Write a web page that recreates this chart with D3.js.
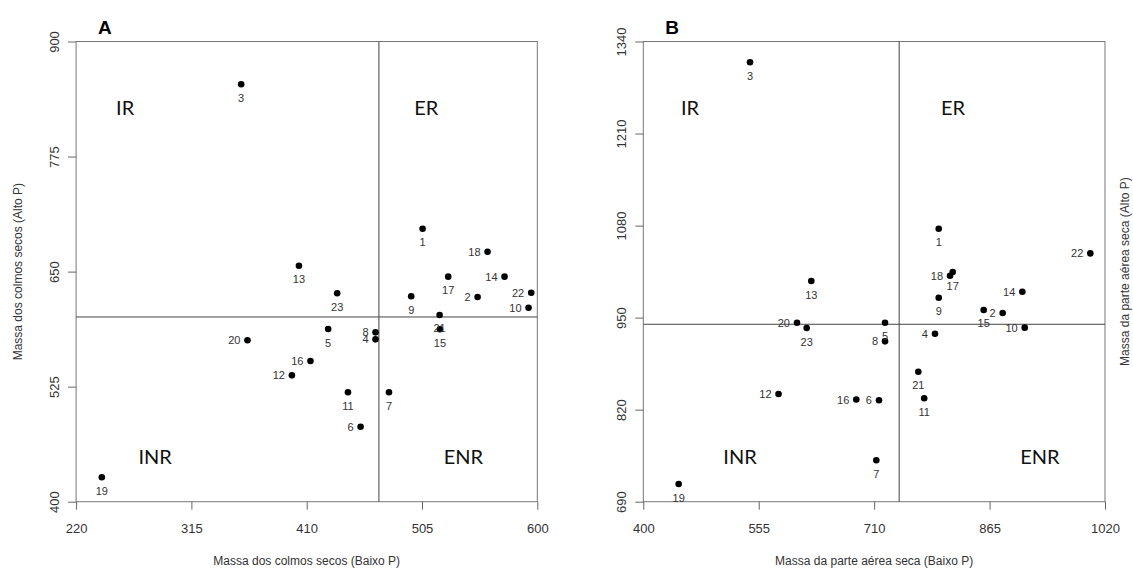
<!DOCTYPE html>
<meta charset="utf-8">
<style>
	body { margin: 0; background: #fff; }
	svg { font-family: "Liberation Sans", Arial, sans-serif; }
	.axis path, .axis line { stroke: #666; }
	.axis text { fill: #333; font-size: 13px; }
	.lbl { fill: #333; font-size: 11px; }
	.quad { font-family: Lato, "Open Sans", sans-serif; font-size: 20px; fill: #111; }
	.title { font-size: 12px; fill: #333; }
	.panel { font-size: 19px; font-weight: bold; fill: #000; }
</style>

<svg width="1133" height="572"></svg>
<script src="https://d3js.org/d3.v7.min.js"></script>

<script>
	// genotype numbers
	var ids = [1, 2, 3, 4, 5, 6, 7, 8, 9, 10, 11, 12, 13, 14, 15, 16, 17, 18, 19, 20, 21, 22, 23];

	// A: massa dos colmos secos
	var colmosBaixo = [505.5, 550.8, 356, 466.7, 427.7, 454.4, 477.8, 466.7, 496.1, 592.8, 444, 397.8,
	                   403.6, 573, 519.8, 413.1, 526.6, 559, 241.2, 361.2, 519.5, 595, 435.1];
	var colmosAlto = [696.6, 622.4, 853.5, 576.4, 587.6, 481.5, 518.9, 584, 623.2, 610.8, 518.9, 537.3,
	                  656.4, 644.5, 587.3, 552.9, 644.5, 671.6, 426.5, 575.4, 602.9, 627.1, 626.4];
	var colmosMean = [469.5, 600.7];
	var colmosXTicks = [220, 315, 410, 505, 600];
	var colmosYTicks = [400, 525, 650, 775, 900];

	// B: massa da parte aérea seca
	var aereaBaixo = [796.7, 882.6, 543.3, 791.7, 724.6, 716.5, 712.9, 724.6, 796.7, 912.2, 777.2, 581.6,
	                  625.6, 909, 857.1, 686, 815.5, 811.9, 447.5, 606.4, 769.3, 1000.3, 619.4];
	var aereaAlto = [1075.6, 956.5, 1310.6, 927.3, 942.8, 833.2, 748.5, 916.5, 978.1, 935.8, 836.2, 842.1,
	                 1001.7, 986.6, 960.8, 834.3, 1014.4, 1009.2, 715, 942.8, 873.5, 1040.8, 935.3];
	var aereaMean = [743.6, 940.6];
	var aereaXTicks = [400, 555, 710, 865, 1020];
	var aereaYTicks = [690, 820, 950, 1080, 1210, 1340];

	// quadrant names
	var quadNames = ["IR", "ER", "INR", "ENR"];

	var svg = d3.select("svg");

	function drawPanel(p) {
		var x = d3.scaleLinear().domain(d3.extent(p.xTicks)).range([p.left, p.right]),
		    y = d3.scaleLinear().domain(d3.extent(p.yTicks)).range([501.7, 41.5]);

		var g = svg.append("g");

		// box
		g.append("rect")
			.attr("x", p.left).attr("y", 41.5)
			.attr("width", p.right - p.left).attr("height", 501.7 - 41.5)
			.attr("fill", "none").attr("stroke", "#777");

		// axes
		var ax = g.append("g")
			.attr("class", "axis")
			.attr("transform", "translate(0,501.7)")
			.call(d3.axisBottom(x).tickValues(p.xTicks).tickSize(8).tickFormat(d3.format("d")));
		ax.select(".domain").remove();
		ax.selectAll("text").attr("y", 22);

		var ay = g.append("g")
			.attr("class", "axis")
			.attr("transform", "translate(" + p.left + ",0)")
			.call(d3.axisLeft(y).tickValues(p.yTicks).tickSize(8).tickFormat(d3.format("d")));
		ay.select(".domain").remove();
		ay.selectAll("text")
			.attr("x", null).attr("dy", null)
			.attr("text-anchor", "middle")
			.attr("transform", "translate(-17.5,0) rotate(-90)");

		// mean lines
		g.append("line")
			.attr("x1", x(p.mean[0])).attr("x2", x(p.mean[0]))
			.attr("y1", y.range()[0]).attr("y2", y.range()[1])
			.attr("stroke", "#444");
		g.append("line")
			.attr("x1", x.range()[0]).attr("x2", x.range()[1])
			.attr("y1", y(p.mean[1])).attr("y2", y(p.mean[1]))
			.attr("stroke", "#444");

		// quadrant labels
		g.selectAll(".quad")
			.data(quadNames)
			.enter().append("text")
			.attr("class", "quad")
			.attr("text-anchor", "middle")
			.attr("x", function(d, i) { return x(p.quadX[i]); })
			.attr("y", function(d, i) { return y(p.quadY[i > 1 ? 1 : 0]) + 7; })
			.text(function(d) { return d; });

		var pts = ids.map(function(id, i) { return {id: id, x: p.xs[i], y: p.ys[i]}; });

		g.selectAll(".dot")
			.data(pts)
			.enter().append("circle")
			.attr("class", "dot")
			.attr("cx", function(d) { return x(d.x); })
			.attr("cy", function(d) { return y(d.y); })
			.attr("r", 3.3)
			.attr("fill", "#000");

		// odd numbers below the point, even ones to the left
		g.selectAll(".lbl")
			.data(pts)
			.enter().append("text")
			.attr("class", "lbl")
			.attr("text-anchor", function(d) { return d.id % 2 ? "middle" : "end"; })
			.attr("x", function(d) { return x(d.x) - (d.id % 2 ? 0 : 7); })
			.attr("y", function(d) { return y(d.y) + (d.id % 2 ? 17.5 : 4); })
			.text(function(d) { return d.id; });

		svg.append("text")
			.attr("class", "panel")
			.attr("x", p.left + 22).attr("y", 34)
			.text(p.name);

		svg.append("text")
			.attr("class", "title")
			.attr("text-anchor", "middle")
			.attr("x", (p.left + p.right) / 2).attr("y", 565)
			.text(p.xTitle);

		svg.append("text")
			.attr("class", "title")
			.attr("text-anchor", "middle")
			.attr("transform", "translate(" + p.yTitleX + "," + (41.5 + 501.7) / 2 + ") rotate(-90)")
			.text(p.yTitle);
	}

	drawPanel({
		name: "A", left: 76.1, right: 537.3,
		xs: colmosBaixo, ys: colmosAlto, mean: colmosMean,
		xTicks: colmosXTicks, yTicks: colmosYTicks,
		quadX: [260.4, 508.6, 285.1, 539.1], quadY: [827.8, 448.6],
		xTitle: "Massa dos colmos secos (Baixo P)",
		yTitle: "Massa dos colmos secos (Alto P)", yTitleX: 22
	});

	drawPanel({
		name: "B", left: 643.3, right: 1105,
		xs: aereaBaixo, ys: aereaAlto, mean: aereaMean,
		xTicks: aereaXTicks, yTicks: aereaYTicks,
		quadX: [462.7, 815.9, 529.9, 932.7], quadY: [1246, 753.1],
		xTitle: "Massa da parte aérea seca (Baixo P)",
		yTitle: "Massa da parte aérea seca (Alto P)", yTitleX: 1129
	});
</script>
